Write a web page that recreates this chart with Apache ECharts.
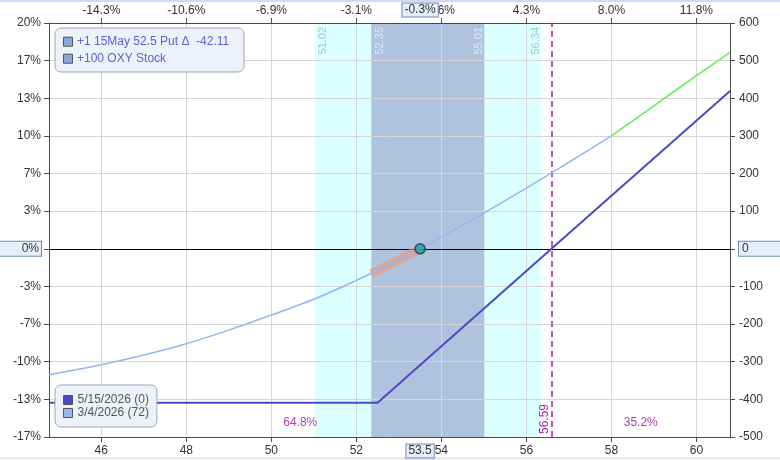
<!DOCTYPE html>
<html><head><meta charset="utf-8">
<script src="https://cdn.jsdelivr.net/npm/echarts@6/dist/echarts.min.js"></script>
<style>html,body{margin:0;padding:0;background:#fff}#c{width:780px;height:460px}</style>
</head><body><div id="c"></div>
<script>
const FONT = 'Arial, "Liberation Sans", sans-serif';

// ---- data ----
const xMin = 44.77, xMax = 60.79;
const xTicks = [46, 48, 50, 52, 54, 56, 58, 60];
const bottomTickLabels = ['46', '48', '50', '52', '54', '56', '58', '60'];
const topTickLabels = ['-14.3%', '-10.6%', '-6.9%', '-3.1%', '0.6%', '4.3%', '8.0%', '11.8%'];
const yMin = -500, yMax = 600, yStep = 100;
const yTicks = [-500, -400, -300, -200, -100, 0, 100, 200, 300, 400, 500, 600];
const leftTickLabels = ['-17%', '-13%', '-10%', '-7%', '-3%', '0%', '3%', '7%', '10%', '13%', '17%', '20%'];
const rightTickLabels = ['-500', '-400', '-300', '-200', '-100', '0', '100', '200', '300', '400', '500', '600'];

const expName = '5/15/2026 (0)';
const expX = [44.77, 52.5, 56.59, 60.79];
const expY = [-409, -409, 0, 419];

const t0Name = '3/4/2026 (72)';
const t0X = [44.77, 45, 46, 47, 48, 49, 50, 51, 52, 52.5, 53, 53.5, 54, 55, 56, 56.59, 57, 58];
const t0Y = [-335, -330, -308, -282, -252, -216, -176, -134, -84, -57, -29, 0, 31, 95, 161, 202, 230, 300];
const t0HighX = [58, 59, 60, 60.79];
const t0HighY = [300, 380, 460, 522];

const rangeX = [52.35, 53, 53.5];
const rangeY = [-66, -29, 0];

const currentPrice = 53.5, currentPnl = 0;
const currentLabels = ['-0.3%', '53.5'];
const outerBand = [51.02, 56.34];
const innerBand = [52.35, 55.01];
const breakeven = 56.59;
const probLabels = ['64.8%', '35.2%'];
const positionLines = ['+1 15May 52.5 Put \u0394  -42.11', '+100 OXY Stock'];

// ---- chart ----
const pairs = (xs, ys) => xs.map((x, i) => [x, ys[i]]);
const chart = echarts.init(document.getElementById('c'));

const axisCol = '#4a4a4a';
const labCol = '#333';

const option = {
  animation: false,
  textStyle: { fontFamily: FONT },
  grid: { left: 49, right: 50, top: 23, bottom: 23, containLabel: false, outerBoundsMode: 'none' },
  legend: {
    data: [expName, t0Name],
    orient: 'vertical', left: 55, top: 385,
    backgroundColor: '#edf2f9', borderColor: '#9aa6b8', borderWidth: 1, borderRadius: 6,
    padding: [9, 8, 8, 8], itemGap: 1, itemWidth: 9, itemHeight: 9, icon: 'rect',
    itemStyle: { borderColor: '#555', borderWidth: 1 },
    textStyle: { color: '#555', fontSize: 12, fontFamily: FONT },
    selectedMode: false
  },
  xAxis: [{
    type: 'value', min: xMin, max: xMax, position: 'bottom',
    axisLine: { show: true, onZero: false, lineStyle: { color: axisCol } },
    axisTick: { show: true, customValues: xTicks, length: 5, lineStyle: { color: axisCol } },
    axisLabel: { customValues: xTicks, color: labCol, fontSize: 12, margin: 8,
      formatter: v => bottomTickLabels[xTicks.indexOf(v)] },
    splitLine: { show: true, lineStyle: { color: '#d6d6d6' } }
  }, {
    type: 'value', min: xMin, max: xMax, position: 'top',
    axisLine: { show: true, onZero: false, lineStyle: { color: axisCol } },
    axisTick: { show: true, customValues: xTicks, length: 5, lineStyle: { color: axisCol } },
    axisLabel: { customValues: xTicks, color: labCol, fontSize: 12, margin: 6,
      formatter: v => topTickLabels[xTicks.indexOf(v)] },
    splitLine: { show: false }
  }],
  yAxis: [{
    type: 'value', min: yMin, max: yMax, interval: yStep, position: 'left',
    axisLine: { show: true, onZero: false, lineStyle: { color: axisCol } },
    axisTick: { show: true, length: 5, lineStyle: { color: axisCol } },
    axisLabel: { color: labCol, fontSize: 12, margin: 8,
      formatter: v => { const t = leftTickLabels[yTicks.indexOf(v)]; return v === 0 ? '{hl|' + t + '}' : t; },
      rich: { hl: { backgroundColor: '#e6eef9', borderColor: '#6f8ab0', borderWidth: 1,
        padding: [1, 2, 1, 2], width: 40, align: 'right', color: labCol, fontSize: 12 } } },
    splitLine: { show: true, lineStyle: { color: '#d6d6d6' } }
  }, {
    type: 'value', min: yMin, max: yMax, interval: yStep, position: 'right',
    axisLine: { show: true, onZero: false, lineStyle: { color: axisCol } },
    axisTick: { show: true, length: 5, lineStyle: { color: axisCol } },
    axisLabel: { color: labCol, fontSize: 12, margin: 9,
      formatter: v => { const t = rightTickLabels[yTicks.indexOf(v)]; return v === 0 ? '{hl|' + t + '}' : t; },
      rich: { hl: { backgroundColor: '#e6eef9', borderColor: '#6f8ab0', borderWidth: 1,
        padding: [1, 3, 1, 3], width: 40, align: 'left', color: labCol, fontSize: 12 } } },
    splitLine: { show: false }
  }],
  series: [
    {
      name: 'bands', type: 'line', data: [], silent: true,
      markArea: {
        silent: true, z: -1,
        data: [
          [{ xAxis: outerBand[0], itemStyle: { color: '#dcffff' } }, { xAxis: outerBand[1] }],
          [{ xAxis: innerBand[0], itemStyle: { color: '#b0c3de' } }, { xAxis: innerBand[1] }]
        ]
      },
      markLine: {
        silent: true, z: 1, symbol: 'none', label: { show: false },
        data: [
          { yAxis: 0, lineStyle: { color: '#000', width: 1, type: 'solid' } },
          { xAxis: breakeven, lineStyle: { color: '#b01cb0', width: 1.5, type: [6, 4] } }
        ]
      }
    },
    {
      name: 'range', type: 'line', data: pairs(rangeX, rangeY), showSymbol: false, silent: true,
      smooth: 0.3, lineStyle: { color: 'rgba(236,150,122,0.65)', width: 9 }, z: 2
    },
    {
      name: t0Name, type: 'line', data: pairs(t0X, t0Y), showSymbol: false, smooth: 0.3,
      color: '#94b6f2', lineStyle: { color: '#94b6f2', width: 1.5 }, z: 3
    },
    {
      name: 't0high', type: 'line', data: pairs(t0HighX, t0HighY), showSymbol: false, smooth: 0.3,
      lineStyle: { color: '#62ee50', width: 1.5 }, z: 3
    },
    {
      name: expName, type: 'line', data: pairs(expX, expY), showSymbol: false,
      color: '#4a4ac8', lineStyle: { color: '#4a4ac8', width: 2 }, z: 3
    },
    {
      name: 'current', type: 'scatter', data: [[currentPrice, currentPnl]], symbolSize: 10,
      itemStyle: { color: '#1aa3a3', borderColor: '#1d3550', borderWidth: 1.5 }, z: 10
    }
  ]
};
chart.setOption(option);

const px = (x, y) => chart.convertToPixel({ xAxisIndex: 0, yAxisIndex: 0 }, [x, y]);
const topPx = px(xMin, yMax)[1];
const botPx = px(xMin, yMin)[1];
const outerCol = '#a6c6d6', innerCol = '#dfe7f2';
const bandLabels = [
  [outerBand[0], 8, outerCol], [innerBand[0], 9, innerCol],
  [innerBand[1], -5, innerCol], [outerBand[1], -5, outerCol]
];
const g = [];
// border strips
g.push({ type: 'rect', shape: { x: 0, y: 0, width: 780, height: 2 }, style: { fill: '#cfdcf0' }, silent: true });
g.push({ type: 'rect', shape: { x: 0, y: 457, width: 780, height: 3 }, style: { fill: '#ececec' }, silent: true });
bandLabels.forEach(([v, off, col]) => {
  g.push({ type: 'text', x: px(v, 0)[0] + off, y: topPx + 4, rotation: Math.PI / 2, silent: true, z: 50,
    style: { text: v.toFixed(2), fill: col, font: '11px ' + FONT, align: 'right', verticalAlign: 'middle' } });
});
g.push({ type: 'text', x: px(breakeven, 0)[0] - 6.5, y: botPx - 3, rotation: Math.PI / 2, silent: true, z: 50,
  style: { text: breakeven.toFixed(2), fill: '#b01cb0', font: '12px ' + FONT, align: 'left', verticalAlign: 'middle' } });
g.push({ type: 'text', x: px((xMin + breakeven) / 2, 0)[0], y: botPx - 14, silent: true, z: 50,
  style: { text: probLabels[0], fill: '#b03cb0', font: '12px ' + FONT, align: 'center', verticalAlign: 'middle' } });
g.push({ type: 'text', x: px((breakeven + xMax) / 2, 0)[0], y: botPx - 14, silent: true, z: 50,
  style: { text: probLabels[1], fill: '#b03cb0', font: '12px ' + FONT, align: 'center', verticalAlign: 'middle' } });
const cx = px(currentPrice, 0)[0];
const boxStyle = { backgroundColor: '#e6eef9', borderColor: '#6f8ab0', borderWidth: 1, padding: [1, 2, 0, 2] };
g.push({ type: 'text', x: cx, y: topPx - 13, silent: true, z: 100,
  style: Object.assign({ text: currentLabels[0], fill: labCol, font: '12px ' + FONT, align: 'center', verticalAlign: 'middle' }, boxStyle) });
g.push({ type: 'text', x: cx, y: botPx + 14, silent: true, z: 100,
  style: Object.assign({ text: currentLabels[1], fill: labCol, font: '12px ' + FONT, align: 'center', verticalAlign: 'middle' }, boxStyle) });
// position box (top-left)
g.push({ type: 'rect', shape: { x: 55, y: 28, width: 189, height: 44, r: 6 }, z: 60, silent: true,
  style: { fill: '#edf2f9', stroke: '#9aa6b8', lineWidth: 1 } });
positionLines.forEach((t, i) => {
  const yc = 41.7 + i * 17;
  g.push({ type: 'rect', shape: { x: 63.5, y: yc - 4.5, width: 9, height: 9 }, z: 61, silent: true,
    style: { fill: '#8aa8e0', stroke: '#555', lineWidth: 1 } });
  g.push({ type: 'text', x: 77, y: yc, z: 61, silent: true,
    style: { text: t, fill: '#5b63d6', font: '12px ' + FONT, align: 'left', verticalAlign: 'middle' } });
});
chart.setOption({ graphic: g });
</script></body></html>
